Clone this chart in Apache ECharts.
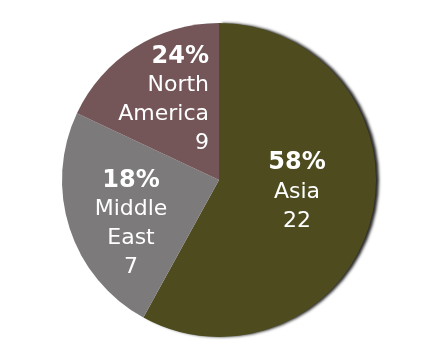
<!DOCTYPE html>
<html><head><meta charset="utf-8">
<script src="https://cdn.jsdelivr.net/npm/echarts@6/dist/echarts.min.js"></script>
<style>html,body{margin:0;padding:0;background:#fff}#c{width:443px;height:344px}</style>
</head><body><div id="c"></div>
<script>
// Regions in drawing order (clockwise from 12 o'clock)
var categories = ['Asia', 'Middle East', 'North America'];
// Slice shares as drawn in the picture (percent of circle)
var sliceShares = [58, 24, 18];
// Label texts as printed on the chart
var labelPercents = ['58%', '18%', '24%'];
var labelCounts = [22, 7, 9];
var colors = ['#4e4c1e', '#7c7a7a', '#745659'];

var labelSpots = [
  {x: 297, y: 192, align: 'center'},
  {x: 131, y: 224, align: 'center'},
  {x: 209, y: 100, align: 'right'}
];

var chart = echarts.init(document.getElementById('c'), null, {renderer: 'canvas'});
var data = categories.map(function (name, i) {
  var item = {
    name: name,
    value: sliceShares[i],
    itemStyle: {color: colors[i]},
    label: {align: labelSpots[i].align}
  };
  if (i === 0) {
    item.itemStyle.shadowColor = 'rgba(0,0,0,0.85)';
    item.itemStyle.shadowBlur = 3;
    item.itemStyle.shadowOffsetX = 3;
    item.itemStyle.shadowOffsetY = 0;
  }
  return item;
});

chart.setOption({
  animation: false,
  series: [{
    type: 'pie',
    center: [219, 180],
    radius: [0, 157],
    startAngle: 90,
    clockwise: true,
    data: data,
    itemStyle: {borderWidth: 0},
    label: {
      show: true,
      position: 'inside',
      color: '#ffffff',
      fontFamily: 'DejaVu Sans',
      formatter: function (p) {
        var i = p.dataIndex;
        return '{p|' + labelPercents[i] + '}\n{n|' + p.name.split(' ').join('}\n{n|') + '}\n{n|' + labelCounts[i] + '}';
      },
      rich: {
        p: {fontSize: 24, fontWeight: 'bold', color: '#fff', fontFamily: 'DejaVu Sans', lineHeight: 29},
        n: {fontSize: 22, color: '#fff', fontFamily: 'DejaVu Sans', lineHeight: 29}
      }
    },
    labelLine: {show: false},
    labelLayout: function (params) {
      var s = labelSpots[params.dataIndex];
      return {x: s.x, y: s.y, align: s.align, verticalAlign: 'middle'};
    }
  }]
});
</script>
</body></html>
